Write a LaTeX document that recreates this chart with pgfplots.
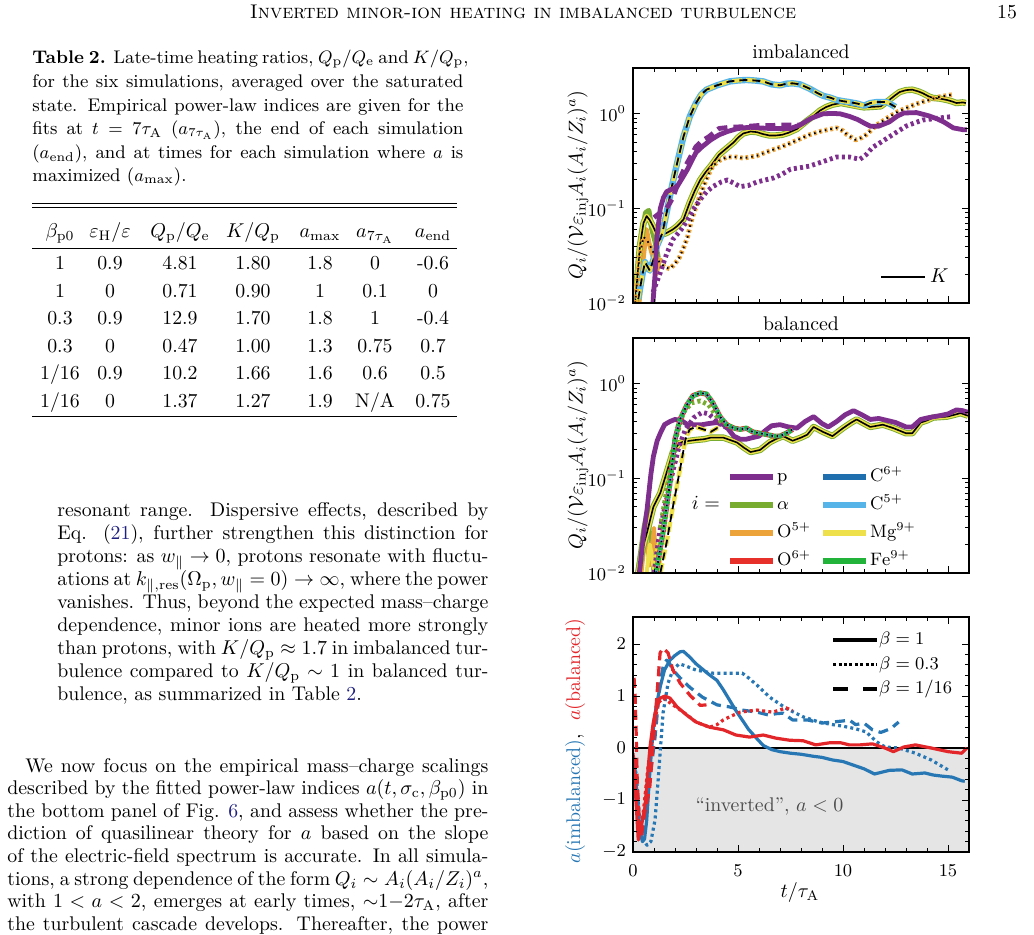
\documentclass[border=0pt]{standalone}
\usepackage{fontspec}
\usepackage{pgfplots}
\usepackage{pgfplotstable}
\pgfplotsset{compat=1.18}
\definecolor{cP}{HTML}{7E2F8E}
\definecolor{cAl}{HTML}{77AC30}
\definecolor{cO5}{HTML}{EBA33A}
\definecolor{cO6}{HTML}{E8302A}
\definecolor{cC6}{HTML}{1F6FAE}
\definecolor{cC5}{HTML}{56B4E9}
\definecolor{cMg}{HTML}{EDE04A}
\definecolor{cFe}{HTML}{22B33A}
\definecolor{cA}{HTML}{2777B5}
\definecolor{cB}{HTML}{E3262A}
\definecolor{link}{rgb}{0.12,0.12,0.5}
\newcommand\fs{\fontsize{9.9}{11.5}\selectfont}
\newcommand\fsc{\fontsize{9.15}{11}\selectfont}
\newcommand\fst{\fontsize{9}{10.5}\selectfont}
\tikzset{dsh/.style={dash pattern=on 4pt off 2.5pt},
 pdsh/.style={dash pattern=on 5pt off 3pt},
 pdot/.style={dash pattern=on 1.5pt off 1.6pt},
 ln/.style={anchor=base west, inner sep=0pt, text height=6.5pt, text depth=1.5pt}}

% ---------- imbalanced ----------
\pgfplotstableread[row sep=\\]{t q\\0.25 0.011\\0.45 0.02\\0.57 0.027\\0.8 0.022\\1.0 0.03\\1.14 0.04\\1.4 0.055\\1.6 0.09\\1.85 0.17\\2.1 0.3\\2.4 0.57\\2.7 0.93\\3.0 1.3\\3.25 1.6\\3.5 1.8\\4.0 2.0\\4.6 2.2\\5.0 2.25\\5.4 2.28\\5.8 2.25\\6.2 2.2\\6.6 2.05\\7.0 2.0\\7.3 2.08\\7.6 2.1\\7.95 2.05\\8.4 1.85\\8.8 1.65\\9.05 1.55\\9.4 1.48\\9.7 1.4\\10.0 1.36\\10.3 1.33\\10.7 1.28\\11.0 1.22\\11.3 1.3\\11.6 1.33\\12.1 1.33\\12.5 1.18\\}\imbDash
\pgfplotstableread[row sep=\\]{t q\\0.1 0.01\\0.2 0.018\\0.33 0.04\\0.5 0.07\\0.65 0.083\\0.8 0.075\\0.95 0.065\\1.1 0.055\\1.3 0.052\\1.6 0.055\\1.9 0.06\\2.1 0.065\\2.4 0.076\\2.7 0.115\\2.95 0.155\\3.2 0.2\\3.45 0.24\\3.7 0.28\\4.1 0.37\\4.5 0.44\\4.8 0.5\\5.0 0.56\\5.25 0.62\\5.6 0.65\\5.9 0.64\\6.2 0.61\\6.5 0.59\\6.8 0.59\\7.1 0.6\\7.4 0.63\\7.8 0.69\\8.0 0.75\\8.3 0.85\\8.6 0.95\\8.9 1.08\\9.2 1.18\\9.5 1.25\\9.9 1.3\\10.3 1.25\\10.7 1.2\\11.0 1.17\\11.3 1.18\\11.8 1.2\\12.2 1.4\\12.5 1.58\\12.7 1.7\\13.0 1.78\\13.3 1.8\\13.6 1.72\\13.8 1.65\\14.1 1.52\\14.3 1.47\\14.6 1.45\\14.95 1.4\\15.2 1.35\\15.4 1.3\\15.7 1.32\\15.85 1.3\\}\imbSol
\pgfplotstableread[row sep=\\]{t q\\0.1 0.01\\0.3 0.03\\0.5 0.05\\0.7 0.045\\0.95 0.035\\1.2 0.028\\1.5 0.024\\1.75 0.023\\2.0 0.026\\2.2 0.03\\2.4 0.038\\2.6 0.05\\2.75 0.07\\2.9 0.09\\3.1 0.12\\3.35 0.17\\3.6 0.23\\3.8 0.28\\4.1 0.32\\4.5 0.35\\4.9 0.35\\5.25 0.34\\5.6 0.35\\5.9 0.36\\6.3 0.39\\6.7 0.42\\7.1 0.45\\7.5 0.49\\8.0 0.55\\8.4 0.6\\9.0 0.66\\9.7 0.71\\10.0 0.66\\10.2 0.6\\10.6 0.53\\10.9 0.56\\11.1 0.6\\11.4 0.69\\11.6 0.76\\12.2 0.93\\12.6 1.05\\13.0 1.15\\13.4 1.25\\13.8 1.34\\14.2 1.42\\14.5 1.5\\15.1 1.58\\15.3 1.6\\}\imbDot
\pgfplotstableread[row sep=\\]{t q\\0.95 0.01\\1.05 0.02\\1.14 0.05\\1.3 0.1\\1.45 0.13\\1.6 0.15\\1.85 0.16\\2.1 0.17\\2.35 0.21\\2.6 0.26\\2.8 0.32\\3.0 0.39\\3.3 0.45\\3.7 0.53\\4.1 0.6\\4.5 0.65\\4.9 0.69\\5.2 0.71\\5.6 0.72\\6.0 0.71\\6.5 0.7\\7.0 0.7\\7.5 0.7\\7.95 0.76\\8.5 0.9\\9.05 1.0\\9.5 1.01\\9.86 1.0\\10.3 0.94\\10.7 0.87\\11.0 0.8\\11.3 0.74\\11.7 0.74\\12.2 0.82\\12.6 0.95\\12.9 1.02\\13.5 1.03\\14.1 0.95\\14.5 0.88\\14.8 0.82\\15.25 0.71\\15.7 0.68\\15.9 0.68\\}\imbPsol
\pgfplotstableread[row sep=\\]{t q\\1.0 0.08\\1.3 0.09\\1.6 0.1\\1.9 0.13\\2.2 0.2\\2.5 0.28\\2.8 0.37\\3.0 0.45\\3.3 0.52\\3.6 0.57\\4.1 0.7\\4.6 0.72\\5.2 0.73\\5.9 0.75\\6.5 0.75\\7.0 0.76\\7.5 0.76\\7.95 0.76\\}\imbPdash
\pgfplotstableread[row sep=\\]{t q\\0.95 0.013\\1.3 0.021\\1.6 0.033\\1.9 0.047\\2.3 0.06\\2.6 0.076\\2.9 0.1\\3.2 0.124\\3.5 0.15\\3.8 0.17\\4.2 0.19\\4.5 0.2\\4.8 0.185\\5.1 0.17\\5.5 0.175\\5.9 0.19\\6.3 0.2\\6.7 0.21\\7.1 0.23\\7.5 0.26\\8.0 0.27\\8.4 0.28\\9.0 0.31\\9.7 0.35\\10.3 0.35\\10.8 0.33\\11.1 0.37\\11.4 0.44\\11.8 0.5\\12.2 0.57\\12.6 0.65\\13.0 0.74\\13.4 0.8\\13.8 0.86\\14.2 0.88\\14.5 0.9\\15.1 0.93\\}\imbPdot
\pgfplotstableread[row sep=\\]{t q\\0.2 0.012\\0.4 0.05\\0.6 0.09\\0.75 0.095\\0.9 0.06\\1.05 0.045\\1.2 0.03\\}\imbSpkA
\pgfplotstableread[row sep=\\]{t q\\0.3 0.01\\0.5 0.03\\0.65 0.06\\0.8 0.04\\0.95 0.03\\1.1 0.02\\1.3 0.03\\}\imbSpkB

% ---------- balanced ----------
\pgfplotstableread[row sep=\\]{t q\\0.3 0.01\\0.5 0.025\\0.67 0.047\\0.85 0.11\\0.97 0.17\\1.15 0.25\\1.3 0.3\\1.5 0.37\\1.76 0.4\\2.0 0.42\\2.3 0.41\\2.6 0.37\\3.0 0.37\\3.3 0.37\\3.6 0.38\\4.0 0.39\\4.3 0.37\\4.5 0.34\\4.8 0.28\\5.1 0.26\\5.4 0.26\\5.7 0.27\\6.0 0.28\\6.3 0.32\\6.6 0.36\\7.0 0.37\\7.4 0.35\\7.8 0.34\\8.2 0.4\\8.6 0.45\\9.0 0.38\\9.3 0.35\\9.7 0.4\\10.1 0.47\\10.5 0.52\\10.9 0.47\\11.3 0.42\\11.7 0.43\\12.1 0.41\\12.5 0.39\\13.0 0.35\\13.3 0.35\\13.7 0.42\\14.1 0.44\\14.6 0.46\\15.0 0.48\\15.4 0.53\\15.7 0.52\\15.95 0.5\\}\balPsol
\pgfplotstableread[row sep=\\]{t q\\0.25 0.01\\0.45 0.018\\0.67 0.027\\0.97 0.05\\1.3 0.07\\1.6 0.115\\1.9 0.19\\2.2 0.235\\2.4 0.245\\3.0 0.255\\3.4 0.26\\3.7 0.27\\4.3 0.27\\4.95 0.24\\5.3 0.21\\5.6 0.19\\6.05 0.2\\6.5 0.24\\6.8 0.26\\7.15 0.28\\7.6 0.25\\8.0 0.27\\8.3 0.29\\8.6 0.35\\9.05 0.31\\9.5 0.28\\10.0 0.34\\10.4 0.39\\10.65 0.42\\11.0 0.38\\11.3 0.35\\11.9 0.37\\12.4 0.34\\13.0 0.3\\13.3 0.3\\13.7 0.39\\14.0 0.41\\14.3 0.44\\14.95 0.45\\15.3 0.47\\15.6 0.49\\15.95 0.46\\}\balSol
\pgfplotstableread[row sep=\\]{t q\\1.1 0.01\\1.43 0.027\\1.6 0.05\\1.76 0.09\\2.0 0.26\\2.24 0.42\\2.57 0.6\\2.86 0.75\\3.2 0.8\\3.5 0.78\\3.8 0.63\\4.14 0.45\\4.46 0.37\\4.8 0.34\\5.1 0.33\\5.4 0.34\\5.7 0.31\\6.05 0.3\\6.4 0.29\\6.7 0.28\\7.0 0.28\\7.3 0.3\\7.6 0.33\\}\balDot
\pgfplotstableread[row sep=\\]{t q\\1.0 0.01\\1.3 0.03\\1.6 0.06\\1.9 0.12\\2.2 0.22\\2.5 0.33\\2.9 0.44\\3.3 0.5\\3.6 0.48\\3.9 0.42\\4.2 0.37\\4.5 0.34\\}\balPdot
\pgfplotstableread[row sep=\\]{t q\\1.3 0.03\\1.7 0.1\\2.0 0.25\\2.4 0.5\\2.8 0.63\\3.2 0.66\\3.6 0.6\\4.0 0.45\\4.3 0.37\\}\balAdot
\pgfplotstableread[row sep=\\]{t q\\1.3 0.01\\1.6 0.021\\1.9 0.05\\2.24 0.125\\2.5 0.26\\2.7 0.33\\3.0 0.35\\3.35 0.33\\3.7 0.31\\4.0 0.34\\4.1 0.34\\}\balDash
\pgfplotstableread[row sep=\\]{t q\\0.2 0.01\\0.5 0.03\\0.7 0.05\\0.85 0.02\\1.0 0.009\\}\balSpkA
\pgfplotstableread[row sep=\\]{t q\\0.4 0.01\\0.6 0.025\\0.8 0.012\\1.0 0.03\\1.15 0.01\\}\balSpkB
\pgfplotstableread[row sep=\\]{t q\\0.6 0.008\\0.8 0.02\\1.0 0.011\\1.2 0.02\\1.35 0.009\\}\balSpkC

% ---------- power-law index a ----------
\pgfplotstableread[row sep=\\]{t a\\0.0 -0.15\\0.06 -0.22\\0.15 -0.7\\0.22 -1.0\\0.33 -1.6\\0.45 -1.8\\0.55 -1.75\\0.65 -1.4\\0.81 -0.42\\0.95 0.3\\1.1 0.8\\1.29 1.17\\1.5 1.5\\1.76 1.69\\2.0 1.78\\2.24 1.85\\2.4 1.86\\2.7 1.75\\3.0 1.62\\3.3 1.52\\3.6 1.42\\4.0 1.3\\4.3 1.12\\4.6 0.92\\4.9 0.72\\5.2 0.54\\5.5 0.36\\5.9 0.18\\6.2 0.05\\6.6 -0.03\\7.0 -0.07\\7.5 -0.1\\8.0 -0.12\\8.6 -0.16\\9.0 -0.18\\9.5 -0.23\\10.0 -0.26\\10.5 -0.33\\11.0 -0.4\\11.5 -0.5\\11.8 -0.47\\12.2 -0.43\\12.8 -0.42\\13.3 -0.5\\13.9 -0.48\\14.3 -0.52\\14.7 -0.54\\15.2 -0.56\\15.65 -0.63\\15.8 -0.64\\}\aBsol
\pgfplotstableread[row sep=\\]{t a\\0.0 -0.2\\0.15 -0.5\\0.3 -1.3\\0.45 -1.75\\0.67 -1.87\\0.85 -1.8\\1.05 -1.38\\1.2 -0.6\\1.29 -0.1\\1.43 0.67\\1.67 1.25\\1.9 1.5\\2.2 1.62\\2.5 1.58\\3.0 1.5\\3.4 1.47\\3.8 1.44\\4.6 1.44\\5.2 1.44\\5.5 1.35\\5.9 1.21\\6.5 0.98\\7.3 0.76\\8.1 0.6\\8.85 0.5\\9.5 0.45\\10.0 0.42\\10.6 0.37\\11.1 0.31\\11.6 0.12\\12.0 0.02\\12.65 0.0\\13.45 -0.1\\14.2 -0.23\\15.0 -0.42\\}\aBdot
\pgfplotstableread[row sep=\\]{t a\\0.05 -0.5\\0.2 -1.25\\0.4 -1.7\\0.6 -1.3\\0.8 -0.6\\1.05 0.21\\1.29 1.25\\1.45 1.6\\1.6 1.69\\1.75 1.62\\1.9 1.5\\2.24 1.35\\2.7 1.17\\3.3 0.98\\4.0 0.83\\4.6 0.79\\5.2 0.73\\5.9 0.69\\6.5 0.63\\6.8 0.66\\7.15 0.67\\7.6 0.54\\8.3 0.54\\9.0 0.48\\9.5 0.5\\10.0 0.52\\10.3 0.54\\10.6 0.45\\11.0 0.48\\11.4 0.35\\11.8 0.3\\12.0 0.33\\12.3 0.38\\12.65 0.5\\}\aBdash
\pgfplotstableread[row sep=\\]{t a\\0.0 -0.1\\0.1 -0.7\\0.25 -1.77\\0.4 -1.5\\0.57 -1.13\\0.7 -0.5\\0.81 0.02\\0.95 0.45\\1.05 0.67\\1.29 0.96\\1.52 1.0\\1.76 0.96\\2.1 0.79\\2.57 0.63\\3.0 0.5\\3.65 0.4\\4.3 0.35\\4.9 0.25\\5.55 0.21\\6.2 0.25\\6.8 0.19\\7.45 0.15\\8.1 0.14\\8.7 0.06\\9.35 0.1\\9.9 0.1\\10.3 0.06\\10.8 0.06\\11.4 0.08\\12.0 0.0\\12.4 -0.07\\12.9 0.02\\13.45 0.06\\14.2 0.0\\15.0 -0.07\\15.65 -0.1\\15.9 0.0\\}\aRsol
\pgfplotstableread[row sep=\\]{t a\\0.0 -0.3\\0.15 -1.0\\0.3 -1.6\\0.5 -1.2\\0.7 -0.42\\0.97 0.35\\1.2 0.87\\1.45 0.96\\1.9 0.83\\2.4 0.69\\3.0 0.5\\3.65 0.4\\4.0 0.45\\4.3 0.54\\4.6 0.6\\5.1 0.69\\5.9 0.73\\6.65 0.69\\7.3 0.77\\7.6 0.72\\}\aRdot
\pgfplotstableread[row sep=\\]{t a\\0.05 1.35\\0.1 1.0\\0.15 0.3\\0.2 -0.6\\0.3 -1.4\\0.4 -1.7\\0.5 -1.38\\0.8 -0.75\\1.05 0.54\\1.29 1.83\\1.43 1.92\\1.67 1.83\\1.9 1.5\\2.24 1.25\\2.7 1.02\\3.2 0.82\\3.5 0.83\\}\aRdash

\pgfplotsset{every axis/.append style={scale only axis, width=168pt, height=117.5pt,
  tick align=inside, tick pos=both, xticklabel pos=lower, yticklabel pos=left,
  major tick length=3.5pt, minor tick length=2pt,
  tick style={black, line width=0.5pt},
  axis line style={line width=0.8pt},
  tick label style={font=\fst}, axis on top, anchor=north west},
  every axis plot/.append style={line join=round}}

\begin{document}
\begin{tikzpicture}[x=0.5pt,y=-0.5pt,font=\fs]
\path[use as bounding box, fill=white] (0,0) rectangle (1034,935);

% ---------------- page text ----------------
\node[anchor=base] at (523,19) {\textsc{Inverted minor-ion heating in imbalanced turbulence}};
\node[anchor=base east] at (1024,19) {15};

\begin{scope}[font=\fsc]
\node[ln] at (32,64) {\makebox[215.5pt][s]{\textbf{Table 2.} Late-time heating ratios, $Q_\mathrm{p}/Q_\mathrm{e}$ and $K/Q_\mathrm{p}$,}};
\node[ln] at (32,87.6) {\makebox[215.5pt][s]{for the six simulations, averaged over the saturated}};
\node[ln] at (32,111.2) {\makebox[215.5pt][s]{state. Empirical power-law indices are given for the}};
\node[ln] at (32,134.8) {\makebox[215.5pt][s]{fits at $t=7\tau_\mathrm{A}$ ($a_{7\tau_\mathrm{A}}$), the end of each simulation}};
\node[ln] at (32,158.4) {\makebox[215.5pt][s]{($a_\mathrm{end}$), and at times for each simulation where $a$ is}};
\node[ln] at (32,182) {maximized ($a_\mathrm{max}$).};
\end{scope}

% table
\draw[line width=0.5pt] (32,204)--(457,204) (32,207.5)--(457,207.5);
\draw[line width=0.5pt] (32,249)--(457,249);
\draw[line width=0.5pt] (32,417)--(457,417);
\foreach \x/\s in {60/{$\beta_\mathrm{p0}$},110/{$\varepsilon_\mathrm{H}/\varepsilon$},180/{$Q_\mathrm{p}/Q_\mathrm{e}$},253/{$K/Q_\mathrm{p}$},320/{$a_\mathrm{max}$},375/{$a_{7\tau_\mathrm{A}}$},433/{$a_\mathrm{end}$}}
  \node[anchor=base] at (\x,238) {\s};
\foreach \y/\a/\b/\c/\d/\e/\f/\g in {270/1/0.9/4.81/1.80/1.8/0/-0.6, 298/1/0/0.71/0.90/1/0.1/0, 325/0.3/0.9/12.9/1.70/1.8/1/-0.4, 353/0.3/0/0.47/1.00/1.3/0.75/0.7, 380/{1/16}/0.9/10.2/1.66/1.6/0.6/0.5, 408/{1/16}/0/1.37/1.27/1.9/{N/A}/0.75}{
  \node[anchor=base] at (60,\y) {\a};
  \node[anchor=base] at (110,\y) {\b};
  \node[anchor=base] at (180,\y) {\c};
  \node[anchor=base] at (253,\y) {\d};
  \node[anchor=base] at (320,\y) {\e};
  \node[anchor=base] at (375,\y) {\f};
  \node[anchor=base] at (433,\y) {\g};
}

% paragraph 1
\node[ln] at (57,517) {\makebox[215.5pt][s]{resonant range. Dispersive effects, described by}};
\node[ln] at (57,539.9) {\makebox[215.5pt][s]{Eq. (\textcolor{link}{21}), further strengthen this distinction for}};
\node[ln] at (57,562.8) {\makebox[215.5pt][s]{protons: as $w_\parallel\rightarrow 0$, protons resonate with fluctu-}};
\node[ln] at (57,585.7) {\makebox[215.5pt][s]{ations at $k_{\parallel,\mathrm{res}}(\Omega_\mathrm{p},w_\parallel=0)\rightarrow\infty$, where the power}};
\node[ln] at (57,608.6) {\makebox[215.5pt][s]{vanishes. Thus, beyond the expected mass--charge}};
\node[ln] at (57,631.5) {\makebox[215.5pt][s]{dependence, minor ions are heated more strongly}};
\node[ln] at (57,654.4) {\makebox[215.5pt][s]{than protons, with $K/Q_\mathrm{p}\approx 1.7$ in imbalanced tur-}};
\node[ln] at (57,677.3) {\makebox[215.5pt][s]{bulence compared to $K/Q_\mathrm{p}\sim 1$ in balanced tur-}};
\node[ln] at (57,700.2) {bulence, as summarized in Table \textcolor{link}{2}.};

% paragraph 2
\node[ln] at (25,772) {\makebox[231.5pt][s]{We now focus on the empirical mass--charge scalings}};
\node[ln] at (7,794.6) {\makebox[240.5pt][s]{described by the fitted power-law indices $a(t,\sigma_\mathrm{c},\beta_\mathrm{p0})$ in}};
\node[ln] at (7,817.2) {\makebox[240.5pt][s]{the bottom panel of Fig. \textcolor{link}{6}, and assess whether the pre-}};
\node[ln] at (7,839.8) {\makebox[240.5pt][s]{diction of quasilinear theory for $a$ based on the slope}};
\node[ln] at (7,862.4) {\makebox[240.5pt][s]{of the electric-field spectrum is accurate. In all simula-}};
\node[ln] at (7,885) {\makebox[240.5pt][s]{tions, a strong dependence of the form $Q_i\sim A_i(A_i/Z_i)^a$,}};
\node[ln] at (7,907.6) {\makebox[240.5pt][s]{with $1<a<2$, emerges at early times, ${\sim}1{-}2\tau_\mathrm{A}$, after}};
\node[ln] at (7,930.2) {\makebox[240.5pt][s]{the turbulent cascade develops. Thereafter, the power}};

% ---------------- panel titles and labels ----------------
\node at (801,52) {imbalanced};
\node at (801,324) {balanced};
\node[rotate=90] at (578,185) {$Q_i/(\mathcal{V}\varepsilon_\mathrm{inj}A_i(A_i/Z_i)^a)$};
\node[rotate=90] at (578,455) {$Q_i/(\mathcal{V}\varepsilon_\mathrm{inj}A_i(A_i/Z_i)^a)$};
\node[rotate=90] at (575,741) {\textcolor{cA}{$a(\mathrm{imbalanced})$},\ \ \textcolor{cB}{$a(\mathrm{balanced})$}};
\node at (800,892) {$t/\tau_\mathrm{A}$};

% ---------------- panel 1: imbalanced ----------------
\begin{axis}[ymode=log, ymin=0.01, ymax=3.05, xmin=0, xmax=16,
  xtick={0,5,10,15}, minor x tick num=4, xticklabels={}, ytick={0.01,0.1,1},
  at={(316.5pt,-34pt)},
  legend style={draw=none, fill=none, at={(0.97,0.04)}, anchor=south east, font=\fs},
  legend image code/.code={\draw[#1] (0pt,0pt) -- (22pt,0pt);}]
\addplot[cAl, line width=2.6pt, forget plot] table[x=t,y=q] {\imbSpkA};
\addplot[cO5, line width=2.2pt, forget plot] table[x=t,y=q] {\imbSpkB};
\addplot[cAl, line width=3.2pt, forget plot] table[x=t,y=q] {\imbSol};
\addplot[cMg, line width=2.3pt, forget plot] table[x=t,y=q] {\imbSol};
\addplot[black, line width=0.8pt, forget plot] table[x=t,y=q] {\imbSol};
\addplot[cC5, line width=3.2pt, forget plot] table[x=t,y=q] {\imbDash};
\addplot[cMg, line width=2.0pt, dash pattern=on 5pt off 2pt, forget plot] table[x=t,y=q] {\imbDash};
\addplot[black, line width=0.9pt, dsh, forget plot] table[x=t,y=q] {\imbDash};
\addplot[cO5, line width=2.4pt, dash pattern=on 1.4pt off 1.4pt, forget plot] table[x=t,y=q] {\imbDot};
\addplot[black, line width=0.9pt, dash pattern=on 0.8pt off 2pt, forget plot] table[x=t,y=q] {\imbDot};
\addplot[cP, line width=2.4pt, forget plot] table[x=t,y=q] {\imbPsol};
\addplot[cP, line width=2.4pt, pdsh, forget plot] table[x=t,y=q] {\imbPdash};
\addplot[cP, line width=2.4pt, pdot, forget plot] table[x=t,y=q] {\imbPdot};
\addlegendimage{black, line width=0.8pt}
\addlegendentry{$K$}
\end{axis}

% ---------------- panel 2: balanced ----------------
\begin{axis}[ymode=log, ymin=0.01, ymax=3.05, xmin=0, xmax=16,
  xtick={0,5,10,15}, minor x tick num=4, xticklabels={}, ytick={0.01,0.1,1},
  at={(316.5pt,-169pt)},
  legend columns=2, legend cell align=left,
  legend style={draw=none, fill=none, at={(0.27,0.475)}, anchor=north west, font=\fst,
    nodes={inner sep=1pt, text height=7pt, text depth=2.5pt}, row sep=2.5pt,
    /tikz/every even column/.append style={column sep=5pt}},
  legend image code/.code={\draw[#1,overlay] (0pt,0pt) -- (21.5pt,0pt); \path[draw=none,fill=none] (0pt,-1pt) rectangle (22.5pt,1pt);}]
\addplot[cAl, line width=2pt, forget plot] table[x=t,y=q] {\balSpkA};
\addplot[cO5, line width=2pt, forget plot] table[x=t,y=q] {\balSpkB};
\addplot[cMg, line width=2pt, forget plot] table[x=t,y=q] {\balSpkC};
\addplot[cAl, line width=3.2pt, forget plot] table[x=t,y=q] {\balSol};
\addplot[cMg, line width=2.3pt, forget plot] table[x=t,y=q] {\balSol};
\addplot[black, line width=0.8pt, forget plot] table[x=t,y=q] {\balSol};
\addplot[cP, line width=2.4pt, forget plot] table[x=t,y=q] {\balPsol};
\addplot[cMg, line width=2.2pt, dash pattern=on 5pt off 2pt, forget plot] table[x=t,y=q] {\balDash};
\addplot[black, line width=0.9pt, dsh, forget plot] table[x=t,y=q] {\balDash};
\addplot[cP, line width=2.4pt, pdot, forget plot] table[x=t,y=q] {\balPdot};
\addplot[cAl, line width=2.4pt, pdot, forget plot] table[x=t,y=q] {\balAdot};
\addplot[cO6, line width=2.6pt, dash pattern=on 1.3pt off 1.3pt, forget plot] table[x=t,y=q] {\balDot};
\addplot[cFe, line width=2.6pt, dash pattern=on 1.3pt off 1.3pt, dash phase=1.3pt, forget plot] table[x=t,y=q] {\balDot};
\addplot[cC5, line width=1.5pt, dash pattern=on 1.3pt off 1.3pt, forget plot] table[x=t,y=q] {\balDot};
\addplot[black, line width=0.9pt, dash pattern=on 0.8pt off 1.8pt, forget plot] table[x=t,y=q] {\balDot};
\node at (rel axis cs:0.217,0.298) {\fs$i=$};
\addlegendimage{cP, line width=2.8pt}\addlegendentry{$\mathrm{p}$}
\addlegendimage{cC6, line width=2.8pt}\addlegendentry{$\mathrm{C}^{6+}$}
\addlegendimage{cAl, line width=2.8pt}\addlegendentry{$\alpha$}
\addlegendimage{cC5, line width=2.8pt}\addlegendentry{$\mathrm{C}^{5+}$}
\addlegendimage{cO5, line width=2.8pt}\addlegendentry{$\mathrm{O}^{5+}$}
\addlegendimage{cMg, line width=2.8pt}\addlegendentry{$\mathrm{Mg}^{9+}$}
\addlegendimage{cO6, line width=2.8pt}\addlegendentry{$\mathrm{O}^{6+}$}
\addlegendimage{cFe, line width=2.8pt}\addlegendentry{$\mathrm{Fe}^{9+}$}
\end{axis}

% ---------------- panel 3: a ----------------
\begin{axis}[xmin=0, xmax=16, xtick={0,5,10,15}, minor x tick num=4,
  at={(316.5pt,-308.5pt)}, ymin=-2, ymax=2.52,
  ytick={-2,-1,0,1,2}, minor y tick num=4,
  xticklabel style={yshift=-3pt},
  legend style={draw=none, fill=none, at={(0.975,0.968)}, anchor=north east, font=\fst,
    nodes={inner sep=1pt, text height=7pt, text depth=2pt}, row sep=1.2pt, legend cell align=left},
  legend image code/.code={\draw[#1,overlay] (0pt,0pt) -- (22pt,0pt); \path[draw=none,fill=none] (0pt,-1pt) rectangle (22pt,1pt);}]
\addplot[fill=black!10, draw=none, forget plot] coordinates {(0,-2) (16,-2) (16,0) (0,0)} -- cycle;
\addplot[black, line width=0.7pt, forget plot] coordinates {(0,0) (16,0)};
\node[text=black!70] at (axis cs:6.5,-1.13) {\fs``inverted'', $a<0$};
\addplot[cA, line width=1.6pt, forget plot] table[x=t,y=a] {\aBsol};
\addplot[cA, line width=1.6pt, pdot, forget plot] table[x=t,y=a] {\aBdot};
\addplot[cA, line width=1.6pt, pdsh, forget plot] table[x=t,y=a] {\aBdash};
\addplot[cB, line width=1.6pt, forget plot] table[x=t,y=a] {\aRsol};
\addplot[cB, line width=1.6pt, pdot, forget plot] table[x=t,y=a] {\aRdot};
\addplot[cB, line width=1.6pt, pdsh, forget plot] table[x=t,y=a] {\aRdash};
\addlegendimage{black, line width=1.8pt}\addlegendentry{$\beta=1$}
\addlegendimage{black, line width=1.8pt, dash pattern=on 1.5pt off 1.2pt}\addlegendentry{$\beta=0.3$}
\addlegendimage{black, line width=1.8pt, dash pattern=on 7.5pt off 7.5pt}\addlegendentry{$\beta=1/16$}
\end{axis}
\end{tikzpicture}
\end{document}
